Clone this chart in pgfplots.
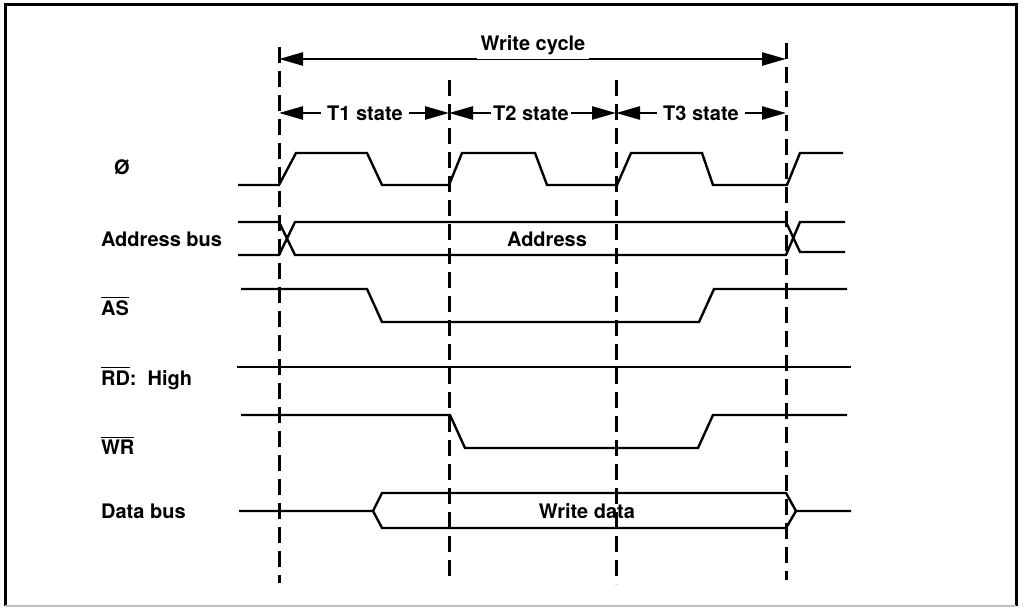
\documentclass[border=0pt]{standalone}
\usepackage{pgfplots}
\pgfplotsset{compat=1.18}
\usetikzlibrary{arrows.meta}
\usepackage{fontspec}
\setmainfont{TeX Gyre Heros}

\newcommand{\lbl}[1]{\textbf{#1}}
\newcommand{\ovl}[1]{$\overline{\mbox{\textbf{#1}}}$}

\begin{document}
\begin{tikzpicture}
\begin{axis}[
    hide axis,
    scale only axis,
    width=517pt, height=304pt,
    xmin=0, xmax=1034, ymin=0, ymax=608,
    y dir=reverse,
    clip=false,
    every node/.append style={font=\fontsize{8.1}{10}\fontseries{b}\selectfont},
    sig/.style={black, solid, line width=1.2pt, mark=none, line join=miter},
    tip/.style={sig, {Triangle[length=12pt,width=6.5pt]}-{Triangle[length=12pt,width=6.5pt]}},
    clock/.style={black, mark=none, line width=1.5pt, dash pattern=on 8pt off 4pt},
]
% page extent and frame
\addplot[draw=none] coordinates {(0,0) (1034,608)};
\addplot[sig, line width=1.5pt] coordinates {(5,606) (5,5) (1016,5) (1016,606)};
\addplot[sig, line width=0.6pt, gray!50] coordinates {(5,606) (1016,606)};

% state boundaries
\addplot[clock] coordinates {(279,47) (279,583)};
\addplot[clock] coordinates {(449,80) (449,582)};
\addplot[clock] coordinates {(616,80) (616,584)};
\addplot[clock] coordinates {(786,43) (786,580)};

% dimension arrows
\addplot[tip] coordinates {(279,59) (786,59)};
\node[fill=white, inner sep=2pt] at (axis cs:533,45) {\lbl{Write cycle}};
\addplot[tip] coordinates {(279,113) (449,113)};
\addplot[tip] coordinates {(449,113) (616,113)};
\addplot[tip] coordinates {(616,113) (786,113)};
\node[fill=white, inner sep=3pt] at (axis cs:365,113) {\lbl{T1 state}};
\node[fill=white, inner sep=1pt] at (axis cs:531,113) {\lbl{T2 state}};
\node[fill=white, inner sep=3pt] at (axis cs:701,113) {\lbl{T3 state}};

% phi clock
\addplot[sig] coordinates {(238,185) (279,185) (296,153) (367,153) (382,185) (449,185)
  (462,153) (535,153) (547,185) (617,185) (631,153) (702,153) (713,185) (787,185)
  (800,153) (843,153)};

% address bus
\addplot[sig] coordinates {(238,222) (279,222) (295,255) (786,255) (800,222) (845,222)};
\addplot[sig] coordinates {(238,255) (279,255) (295,222) (786,222) (800,252) (845,252)};
\node at (axis cs:547,239) {\lbl{Address}};

% AS
\addplot[sig] coordinates {(241,289) (367,289) (382,322) (699,322) (714,289) (847,289)};
% RD
\addplot[sig] coordinates {(237,367) (851,367)};
% WR
\addplot[sig] coordinates {(241,415) (450,415) (465,448) (698,448) (713,415) (847,415)};

% data bus
\addplot[sig] coordinates {(239,511) (373,511) (382,493) (786,493) (796,511) (851,511)};
\addplot[sig] coordinates {(373,511) (382,528) (786,528) (796,511)};
\node at (axis cs:587,511) {\lbl{Write data}};

% signal names
\node[anchor=west] at (axis cs:107,167) {\lbl{Ø}};
\node[anchor=west] at (axis cs:94,239) {\lbl{Address bus}};
\node[anchor=west] at (axis cs:94,306) {\ovl{AS}};
\node[anchor=west] at (axis cs:94,378) {\ovl{RD}\lbl{:\ \ High}};
\node[anchor=west] at (axis cs:94,445) {\ovl{WR}};
\node[anchor=west] at (axis cs:94,511) {\lbl{Data bus}};
\end{axis}
\end{tikzpicture}
\end{document}
